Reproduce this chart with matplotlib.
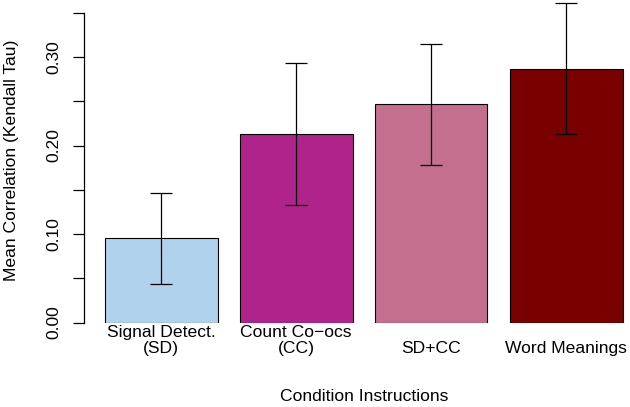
import numpy as np
import matplotlib
matplotlib.use("Agg")
import matplotlib.pyplot as plt

plt.rcParams['font.family'] = ['Liberation Sans', 'DejaVu Sans']

# data
conditions = ["Signal Detect.\n(SD)", "Count Co\u2212ocs\n(CC)", "\nSD+CC", "\nWord Meanings"]
means = [0.095, 0.213, 0.2465, 0.287]
err_low = [0.0435, 0.133, 0.1785, 0.2125]
err_high = [0.1465, 0.2935, 0.3148, 0.3615]
colors = ["#B0D2EC", "#B0238A", "#C46F8F", "#780000"]
yticks = [0.00, 0.05, 0.10, 0.15, 0.20, 0.25, 0.30, 0.35]
ylabels = ["0.00", "", "0.10", "", "0.20", "", "0.30", ""]

W, H = 630, 407
fig = plt.figure(figsize=(W / 100, H / 100), dpi=100)

# plot region in pixels (R style barplot layout)
left_px, right_px = 84.3, 630
bottom_px, top_px = 322.5, 0.4
ax = fig.add_axes([left_px / W, 1 - bottom_px / H,
                   (right_px - left_px) / W, (bottom_px - top_px) / H])

x = 0.7 + 1.2 * np.arange(len(means))
ax.bar(x, means, width=1.0, color=colors, edgecolor="black", linewidth=0.8, zorder=2)

means_a = np.array(means)
yerr = [means_a - np.array(err_low), np.array(err_high) - means_a]
ax.errorbar(x, means, yerr=yerr, fmt="none", ecolor="black", elinewidth=0.9,
            capsize=8, capthick=0.9, zorder=3)

ax.set_xlim(0.016, 0.016 + (right_px - left_px) / 112.5)
ax.set_ylim(0, 0.364)

for s in ["top", "right", "bottom"]:
    ax.spines[s].set_visible(False)
ax.spines["left"].set_bounds(0, 0.35)
ax.spines["left"].set_linewidth(0.9)

ax.set_yticks(yticks)
ax.set_yticklabels(ylabels, rotation=90, va="center", fontsize=12.6)
ax.tick_params(axis="y", length=7.7, width=0.9, pad=8.5)

ax.set_xticks(x)
ax.set_xticklabels(conditions, fontsize=12.6, linespacing=1.1)
ax.tick_params(axis="x", length=0, pad=1.5)

fig.text(12 / W, 1 - 160 / H, "Mean Correlation (Kendall Tau)", rotation=90,
         ha="center", va="center", fontsize=12.6)
fig.text(364 / W, 1 - 396.5 / H, "Condition Instructions",
         ha="center", va="center", fontsize=12.6)

fig.savefig("out.png", dpi=100)
